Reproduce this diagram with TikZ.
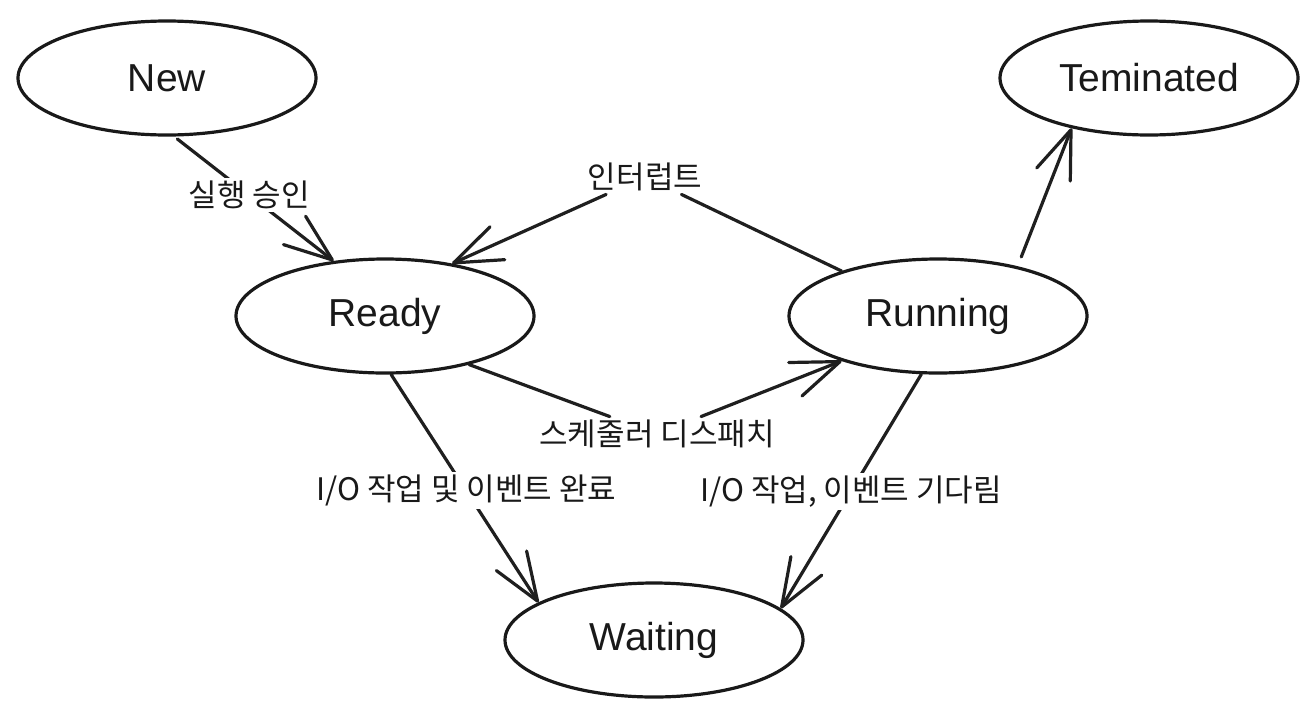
\documentclass[tikz,border=0pt]{standalone}
\usepackage{fontspec}
\setmainfont{Liberation Sans}
\newfontfamily\kr{Noto Sans CJK KR}
\usetikzlibrary{arrows.meta,shapes.geometric}

\tikzset{
  state/.style={ellipse,draw=black!90,line width=1.6pt,minimum width=149pt,minimum height=57pt,
    font=\fontsize{19.5}{23}\selectfont,text=black!90},
  arr/.style={draw=black!88,line width=1.6pt,line cap=round,
    -{Straight Barb[length=24pt,width=18pt,line join=round,line cap=round]}},
  lbl/.style={fill=white,inner sep=1.5pt,font=\kr\fontsize{15.5}{18}\selectfont,text=black!90}
}

\begin{document}
\begin{tikzpicture}[x=0.5pt,y=-0.5pt]
  \useasboundingbox (0,0) rectangle (1316,718);
  %% states
  \node[state] (new) at (167,78) {New};
  \node[state] (term) at (1149,78) {Teminated};
  \node[state] (ready) at (385,316) {Ready};
  \node[state] (run) at (938,316) {Running};
  \node[state] (wait) at (654,640) {Waiting};
  %% labels at the bends
  \node[lbl] (intr) at (645,177) {인터럽트};
  \node[lbl] (sched) at (657,434) {스케줄러 디스패치};
  %% transitions
  \draw[arr,shorten <=2pt] (new.-83) -- node[lbl,pos=0.47] {실행 승인} (ready.133);
  \draw[arr] (run.155) -- (intr) -- (ready.38);
  \draw[arr] (ready.-30) -- (sched) -- (run.205);
  \draw[arr] (ready.-84) -- node[lbl,pos=0.51] {I/O 작업 및 이벤트 완료} (wait.162);
  \draw[arr] (run.254) -- node[lbl,pos=0.5] {I/O 작업, 이벤트 기다림} (wait.14);
  \draw[arr,shorten <=5pt] (run.32) -- (term.213);
\end{tikzpicture}
\end{document}
